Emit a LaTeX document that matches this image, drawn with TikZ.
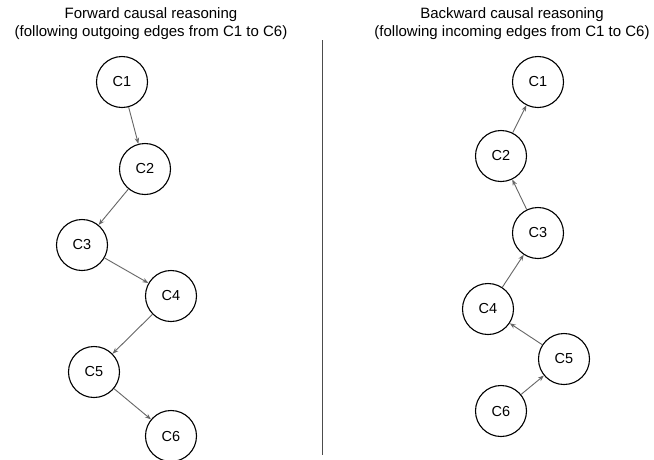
\documentclass[tikz,border=0pt]{standalone}
\usepackage{fontspec}
\setmainfont{Liberation Sans}
\usetikzlibrary{arrows.meta}
\begin{document}
\begin{tikzpicture}[x=1pt,y=-1pt,
  concept/.style={circle,draw=black,line width=1.1pt,minimum size=51pt,inner sep=0pt,
    font=\fontsize{14.5}{17}\selectfont},
  link/.style={draw=black!60,line width=0.9pt,-{Stealth[length=6pt,width=4.5pt]}},
  heading/.style={align=center,font=\fontsize{15}{18}\selectfont}]
\useasboundingbox[fill=white] (0,0) rectangle (654,459);

% titles
\node[heading] (fwdtitle) at (151,24) {Forward causal reasoning\\(following outgoing edges from C1 to C6)};
\node[heading] (bwdtitle) at (512,24) {Backward causal reasoning\\(following incoming edges from C1 to C6)};

% separator
\coordinate (septop) at (322,40);
\coordinate (sepbot) at (322,455);
\draw[line width=0.9pt,black!70] (septop) -- (sepbot);

% forward chain
\node[concept] (f1) at (122,82) {C1};
\node[concept] (f2) at (145,169) {C2};
\node[concept] (f3) at (82,245) {C3};
\node[concept] (f4) at (171,296) {C4};
\node[concept] (f5) at (94,372) {C5};
\node[concept] (f6) at (171,436) {C6};
\draw[link] (f1) -- (f2);
\draw[link] (f2) -- (f3);
\draw[link] (f3) -- (f4);
\draw[link] (f4) -- (f5);
\draw[link] (f5) -- (f6);

% backward chain
\node[concept] (b1) at (538,82) {C1};
\node[concept] (b2) at (501,156) {C2};
\node[concept] (b3) at (538,233) {C3};
\node[concept] (b4) at (488,309) {C4};
\node[concept] (b5) at (564,359) {C5};
\node[concept] (b6) at (501,411) {C6};
\draw[link] (b2) -- (b1);
\draw[link] (b3) -- (b2);
\draw[link] (b4) -- (b3);
\draw[link] (b5) -- (b4);
\draw[link] (b6) -- (b5);
\end{tikzpicture}
\end{document}
